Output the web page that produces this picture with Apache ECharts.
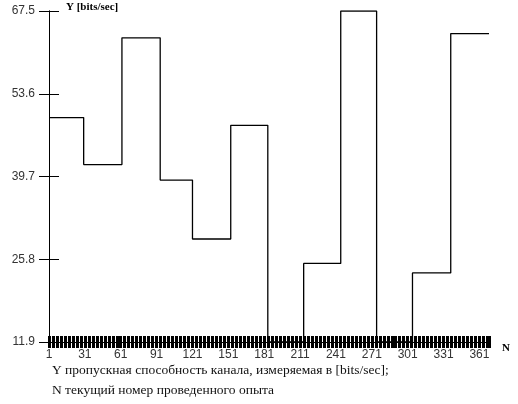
<!DOCTYPE html>
<html>
<head>
<meta charset="utf-8">
<script src="https://cdn.jsdelivr.net/npm/echarts@6/dist/echarts.min.js"></script>
<style>html,body{margin:0;padding:0;background:#fff;}#c{width:518px;height:404px;}</style>
</head>
<body>
<div id="c"></div>
<script>
// ---- data ----
const segmentStartN = [1, 30, 62, 94, 121, 153, 184, 214, 245, 275, 305, 337];
const lastN = 369;
const segmentValues = [49.6, 41.7, 63.0, 39.1, 29.2, 48.3, 11.9, 25.1, 67.5, 11.9, 23.5, 63.7];
const yTicks = [11.9, 25.8, 39.7, 53.6, 67.5];
const xTickLabels = [1, 31, 61, 91, 121, 151, 181, 211, 241, 271, 301, 331, 361];
const yTitle = 'Y [bits/sec]';
const xTitle = 'N';
const caption1 = 'Y пропускная способность канала, измеряемая в [bits/sec];';
const caption2 = 'N текущий номер проведенного опыта';

const Y_MIN = yTicks[0];
const Y_STEP = yTicks[1] - yTicks[0];
const Y_MAX = yTicks[yTicks.length - 1];
const X_STEP = xTickLabels[1] - xTickLabels[0];

const points = segmentStartN.map((n, i) => [n - 1, segmentValues[i] - Y_MIN]);
points.push([lastN - 1, segmentValues[segmentValues.length - 1] - Y_MIN]);

const chart = echarts.init(document.getElementById('c'), null, {renderer: 'canvas'});
const labelFont = {fontFamily: 'Liberation Sans, Arial, sans-serif', fontSize: 12, color: '#333'};

function xAxisBase(inside, showLabel) {
  return {
    type: 'value', min: 0, max: lastN - 1, interval: X_STEP,
    gridIndex: 0, position: 'bottom',
    axisLine: {show: true, onZero: false, lineStyle: {color: '#000', width: 1}},
    axisTick: {show: true, inside: inside, length: 6, lineStyle: {color: '#000', width: 3}},
    minorTick: {show: true, splitNumber: 9, length: 6, lineStyle: {color: '#000', width: 3}},
    splitLine: {show: false}, minorSplitLine: {show: false},
    axisLabel: Object.assign({show: showLabel, margin: 7,
      formatter: v => String(Math.round(v) + 1)}, labelFont)
  };
}
function yAxisBase(inside, showLabel) {
  return {
    type: 'value', min: 0, max: +(Y_MAX - Y_MIN).toFixed(4), interval: Y_STEP,
    gridIndex: 0, position: 'left',
    axisLine: {show: true, onZero: false, lineStyle: {color: '#000', width: 1}},
    axisTick: {show: true, inside: inside, length: 10, lineStyle: {color: '#000', width: 1}},
    splitLine: {show: false},
    axisLabel: Object.assign({show: showLabel, margin: 14,
      formatter: v => (v + Y_MIN).toFixed(1)}, labelFont)
  };
}

chart.setOption({
  animation: false,
  backgroundColor: '#fff',
  grid: {left: 49, top: 11, width: 440, height: 331, containLabel: false, outerBoundsMode: 'none'},
  xAxis: [xAxisBase(false, true), xAxisBase(true, false)],
  yAxis: [yAxisBase(false, true), yAxisBase(true, false)],
  series: [{
    type: 'line', xAxisIndex: 0, yAxisIndex: 0,
    step: 'end', showSymbol: false, symbol: 'none',
    lineStyle: {color: '#000', width: 1.3},
    data: points
  }],
  graphic: [
    {type: 'text', left: 66, top: 2, style: {text: yTitle, fill: '#000',
      font: 'bold 11px "Liberation Serif", "Times New Roman", serif'}},
    {type: 'text', left: 502, top: 343, style: {text: xTitle, fill: '#000',
      font: 'bold 11px "Liberation Serif", "Times New Roman", serif'}},
    {type: 'text', left: 52, top: 363, style: {text: caption1, fill: '#111',
      font: '13.5px "Liberation Serif", "Times New Roman", serif'}},
    {type: 'text', left: 52, top: 383, style: {text: caption2, fill: '#111',
      font: '13.5px "Liberation Serif", "Times New Roman", serif'}}
  ]
});
</script>
</body>
</html>
